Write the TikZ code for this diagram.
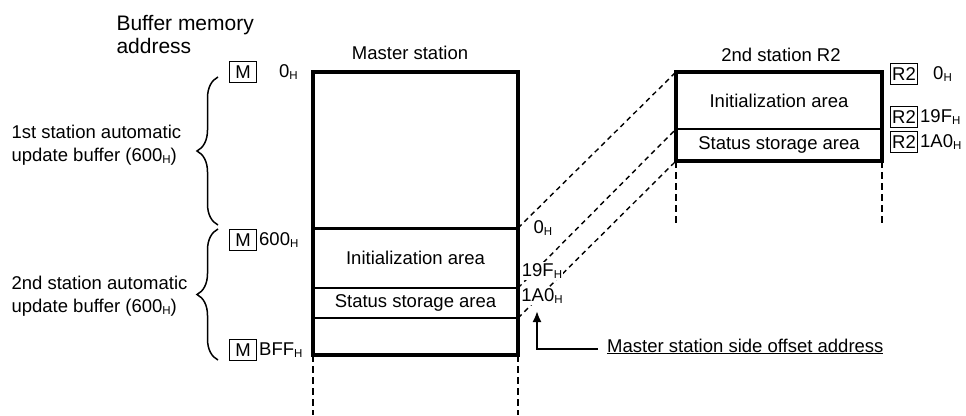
\documentclass[tikz,border=0pt]{standalone}
\usepackage{fontspec}
\setmainfont{Liberation Sans}
\usetikzlibrary{positioning,arrows.meta,decorations.pathreplacing}

\newcommand{\hx}{\raisebox{-0.12em}{\fontsize{11.5}{11.5}\selectfont H}}
\newcommand{\txt}{\fontsize{18.5}{23}\selectfont}

\begin{document}
\begin{tikzpicture}[
        x=1pt, y=-1pt,
        area/.style={rectangle, draw, line width=2pt, outer sep=0pt, inner sep=0pt, minimum width=205pt, font=\txt},
        regbox/.style={rectangle, draw, line width=1pt, inner sep=1.5pt, minimum width=27pt, minimum height=21pt, font=\txt},
        addr/.style={inner sep=1pt, font=\txt},
        lbl/.style={font=\txt, align=left},
        link/.style={dash pattern=on 5pt off 4pt, line width=1.4pt},
        guide/.style={dash pattern=on 7pt off 4pt, line width=2.2pt},
        brace/.style={decorate, decoration={brace, amplitude=21pt}, line width=1.5pt},
        arrow/.style={-{Latex[length=11pt,width=9pt]}, line width=2pt}
    ]
        \useasboundingbox (0,0) rectangle (966,415);
        % master station buffer memory
        \node[area, minimum height=156pt] (mtop) at (415.5,150) {};
        \node[area, minimum height=60pt, below=0pt of mtop] (minit) {Initialization area};
        \node[area, minimum height=30pt, below=0pt of minit] (mstat) {Status storage area};
        \node[area, minimum height=37pt, below=0pt of mstat] (mrest) {};
        \draw[line width=3.4pt] (mtop.north west) rectangle (mrest.south east);
        \draw[line width=3pt] (minit.north west) -- (minit.north east);
        \node[font=\txt] (mtitle) at (410,53) {Master station};
        % 2nd station R2
        \node[area, minimum width=206pt, minimum height=57pt] (rinit) at (779,100.5) {Initialization area};
        \node[area, minimum width=206pt, minimum height=32pt, below=0pt of rinit] (rstat) {Status storage area};
        \draw[line width=3.4pt] (rinit.north west) rectangle (rstat.south east);
        \node[font=\txt] (rtitle) at (781,55) {2nd station R2};
        % left side labels
        \node[font=\fontsize{21}{23}\selectfont, align=left, anchor=west] (bufaddr) at (113,35) {Buffer memory\\address};
        \node[lbl, anchor=west] (buf1) at (8,145) {1st station automatic\\update buffer (600\hx)};
        \node[lbl, anchor=west] (buf2) at (8,296) {2nd station automatic\\update buffer (600\hx)};
        \draw[brace] (218,225) -- (218,77);
        \draw[brace] (218,360) -- (218,229);
        \node[regbox] (m0) at (243,72) {M};
        \node[addr, anchor=west] (m0a) at (278,72) {0\hx};
        \node[regbox] (m600) at (243,240) {M};
        \node[addr, right=1pt of m600] (m600a) {600\hx};
        \node[regbox] (mbff) at (243,350) {M};
        \node[addr, right=1pt of mbff] (mbffa) {BFF\hx};
        % R2 addresses
        \node[regbox] (r0) at (904,74) {R2};
        \node[addr, anchor=west] (r0a) at (932,74) {0\hx};
        \node[regbox] (r19f) at (904,117) {R2};
        \node[addr, right=1pt of r19f] (r19fa) {19F\hx};
        \node[regbox] (r1a0) at (904,142) {R2};
        \node[addr, right=1pt of r1a0] (r1a0a) {1A0\hx};
        % mapping lines
        \draw[link] (minit.north east) -- (rinit.north west);
        \draw[link] (mstat.north east) -- (rstat.north west);
        \draw[link] (mstat.south east) -- (rstat.south west);
        \node[addr, fill=white] (s0) at (543,228) {0\hx};
        \node[addr, fill=white] (s19f) at (542,271) {19F\hx};
        \node[addr, fill=white] (s1a0) at (542,296) {1A0\hx};
        \draw[guide] (mrest.south west) -- ++(0,60);
        \draw[guide] (mrest.south east) -- ++(0,60);
        \draw[guide] (rstat.south west) -- ++(0,62);
        \draw[guide] (rstat.south east) -- ++(0,62);
        % offset note
        \node[font=\txt, anchor=base west, inner sep=0pt] (offset) at (607,352) {\underline{Master station side offset address}};
        \coordinate (tip) at (537,311);
        \draw[arrow] ([xshift=-9pt,yshift=3pt]offset.base west) -| (tip);
    \end{tikzpicture}
\end{document}
